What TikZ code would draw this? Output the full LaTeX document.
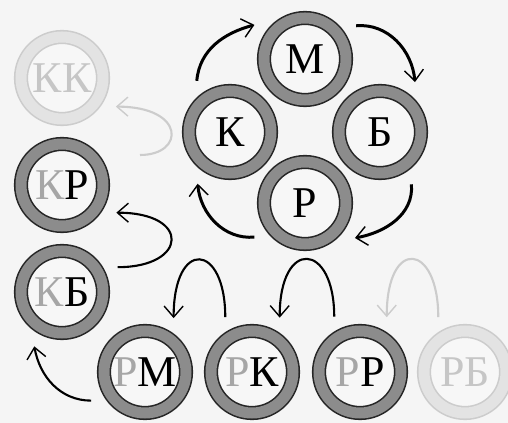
\documentclass[tikz,border=0pt]{standalone}
\usepackage{fontspec}
\setmainfont{Liberation Serif}
\usetikzlibrary{arrows.meta}
\definecolor{anillo}{gray}{0.55}
\definecolor{papel}{gray}{0.96}
\newcommand{\claro}[1]{\textcolor{gray!70}{#1}}

\begin{document}
\begin{tikzpicture}[
  ring/.style={circle, minimum size=1.64cm, inner sep=0pt, outer sep=0.40cm, fill=white!97!black, draw=black!85, line width=0.9pt, double=anillo, double distance=0.22cm, font=\fontsize{25}{25}\selectfont},
  ringfaded/.style={ring, draw=gray!40, double=gray!22, text=gray!45},
  flecha/.style={line width=1.7pt, -{Straight Barb[length=2.2mm,width=3.8mm,line width=0.8pt]}},
  flechafina/.style={flecha, line width=1.2pt},
  flechaclara/.style={flechafina, draw=gray!40}]
  \fill[papel] (0,0) rectangle (10.16,8.46);
  \useasboundingbox (0,0) rectangle (10.16,8.46);

  % Ciclo superior
  \node[ring] (m) at (6.10,7.28) {М};
  \node[ring] (k) at (4.60,5.82) {К};
  \node[ring] (b) at (7.60,5.82) {Б};
  \node[ring] (r) at (6.10,4.40) {Р};

  % Columna izquierda
  \node[ringfaded] (kk) at (1.24,6.90) {КК};
  \node[ring] (kr) at (1.24,4.76) {\claro{К}Р};
  \node[ring] (kb) at (1.24,2.62) {\claro{К}Б};

  % Fila inferior
  \node[ring] (rm) at (2.90,1.02) {\claro{Р}М};
  \node[ring] (rk) at (5.04,1.02) {\claro{Р}К};
  \node[ring] (rr) at (7.20,1.02) {\claro{Р}Р};
  \node[ringfaded] (rb) at (9.30,1.02) {РБ};

  % Flechas del ciclo
  \draw[flecha] (k.123) to[out=85, in=195] (m.146);
  \draw[flecha] (m.33) to[out=5, in=95] (b.55);
  \draw[flecha] (b.-59) to[out=-85, in=10] (r.-35);
  \draw[flecha] (r.214) to[out=185, in=-85] (k.238);

  % Flechas de la columna
  \coordinate (fk) at (2.80,5.36);
  \draw[flechaclara] (fk) .. controls +(0.9,0) and +(1.4,0) .. (kk.-28);
  \draw[flechafina] (kb.24) .. controls +(1.4,0) and +(1.5,0) .. (kr.-27);
  \draw[flechafina] (rm.208) to[out=180, in=-80] (kb.243);

  % Arcos de la fila
  \draw[flechafina] (rk.116) .. controls +(0,1.5) and +(0,1.6) .. (rm.62);
  \draw[flechafina] (rr.115) .. controls +(0,1.5) and +(0,1.6) .. (rk.63);
  \draw[flechaclara] (rb.116) .. controls +(0,1.5) and +(0,1.6) .. (rr.64);
\end{tikzpicture}
\end{document}
